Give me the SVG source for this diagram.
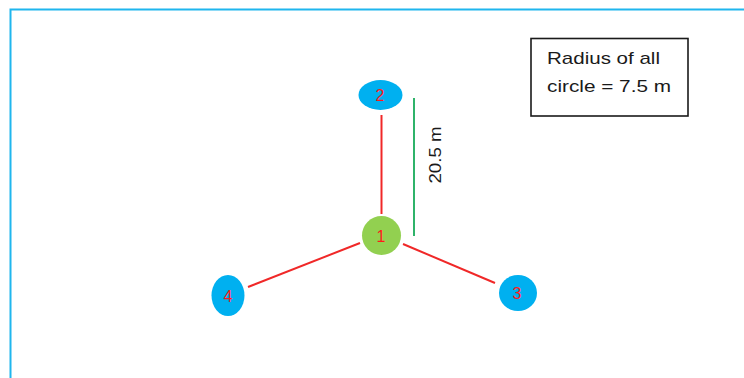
<svg xmlns="http://www.w3.org/2000/svg" width="744" height="378" viewBox="0 0 744 378">
<style>
.frame{fill:none;stroke:#1fb6ee;stroke-width:2}
.edge{stroke:#f02828;stroke-width:2;fill:none}
.dim{stroke:#2fb36a;stroke-width:2}
.blue{fill:#00b0f0}
.green{fill:#92d050}
.lbl{font-family:"Liberation Sans",Arial,sans-serif;font-size:16px;fill:#ff1a1a;text-anchor:middle}
.txt{font-family:"Liberation Sans",Arial,sans-serif;font-size:17px;fill:#1a1a1a}
</style>
<rect width="744" height="378" fill="#ffffff"/>
<path class="frame" d="M10.5,378 V9.5 H744"/>
<g id="connectors">
<line class="edge" x1="381.5" y1="115" x2="381.5" y2="214"/>
<line class="edge" x1="248" y1="287" x2="360" y2="243"/>
<line class="edge" x1="403" y1="244" x2="495" y2="283"/>
<line class="dim" x1="414" y1="98" x2="414" y2="236"/>
<text class="txt" transform="translate(441,155) rotate(-90)" text-anchor="middle" textLength="57" lengthAdjust="spacingAndGlyphs">20.5 m</text>
</g>
<g id="node1">
<circle class="green" cx="381.5" cy="235.5" r="19.5"/>
<text class="lbl" x="381" y="241.5">1</text>
</g>
<g id="node2">
<ellipse class="blue" cx="380.5" cy="95" rx="22" ry="15"/>
<text class="lbl" x="380" y="100.5">2</text>
</g>
<g id="node3">
<ellipse class="blue" cx="518" cy="293" rx="19" ry="18"/>
<text class="lbl" x="517" y="298.5">3</text>
</g>
<g id="node4">
<ellipse class="blue" cx="228" cy="295.5" rx="16.5" ry="20.5"/>
<text class="lbl" x="228" y="301.5">4</text>
</g>
<g id="legend">
<rect x="531" y="38.5" width="157" height="77.5" fill="#ffffff" stroke="#1a1a1a" stroke-width="1.6"/>
<text class="txt" x="547" y="64" textLength="113" lengthAdjust="spacingAndGlyphs">Radius of all</text>
<text class="txt" x="547" y="91.5" textLength="124" lengthAdjust="spacingAndGlyphs">circle = 7.5 m</text>
</g>
</svg>
